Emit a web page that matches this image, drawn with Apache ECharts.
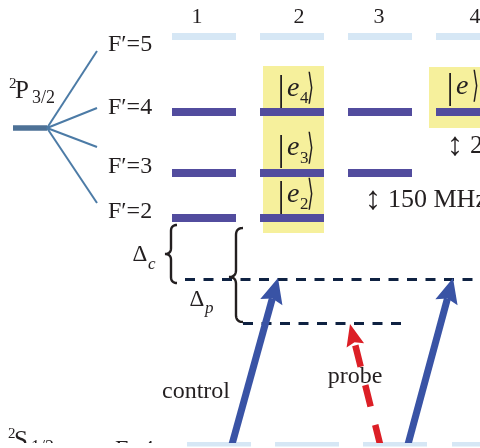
<!DOCTYPE html>
<html>
<head>
<meta charset="utf-8">
<script src="https://cdn.jsdelivr.net/npm/echarts@6.0.0/dist/echarts.min.js"></script>
<style>
  html, body { margin: 0; padding: 0; background: #fff; }
  #chart { width: 480px; height: 448px; }
</style>
</head>
<body>
<div id="chart"></div>
<script>
// column numbers across the top
const columnNames = ['1', '2', '3', '4'];
const columnNameX = [197, 299, 379, 475];
const columnNameY = 17;

// hyperfine levels of 2P3/2
const levelNames = ['F\u2032=5', 'F\u2032=4', 'F\u2032=3', 'F\u2032=2'];
const levelY = [36.5, 112, 173, 218];
const levelNameY = [45, 108, 167, 212];
const levelCoupled = [false, true, true, true];
const levelColumns = [[0, 1, 2, 3], [0, 1, 2, 3], [0, 1, 2], [0, 1]];
const columnStart = [172, 260, 348, 436];
const columnEnd = [236, 324, 412, 500];

// ground level, cut by the bottom edge
const groundY = 445;
const groundStart = [187, 275, 363, 452];
const groundEnd = [251, 339, 427, 516];

// term symbols
const termLetters = ['P', 'S'];
const termSubs = ['3/2', '1/2'];
const termX = [9, 8];
const termY = [91, 441];
const groundName = ['F=4'];
const groundNameX = [115];
const groundNameY = [450];

// 2P3/2 stem and fan
const stemX = [13, 47];
const stemY = 128;
const fanEndX = 97;
const fanEndY = [51, 108, 147, 203];

// dressed states
const ketSubs = ['4', '3', '2', ''];
const ketX = [281, 281, 281, 450];
const ketY = [90, 149.5, 196, 88];
const boxX0 = [263, 429];
const boxY0 = [66, 67];
const boxX1 = [324, 500];
const boxY1 = [233, 128];

// splittings
const splitNames = ['150 MHz', '201 MHz'];
const splitX = [373, 455];
const splitY = [200, 146];

// detunings
const dashedY = [279, 323.5];
const dashedFrom = [185, 243];
const dashedTo = [480, 406];
const braceLeft = [165, 229];
const braceRight = [177, 243];
const braceTop = [225, 228];
const braceCusp = [254, 277];
const braceBottom = [283, 322];
const deltaSubs = ['c', 'p'];
const deltaX = [140, 197];
const deltaY = [255, 299.5];

// beams [x0, y0, x1, y1]
const controlBeams = [[231, 448, 278, 278], [407, 448, 453, 278]];
const probeBeams = [[381, 448, 350, 324]];
const beamNames = ['control', 'probe'];
const beamNameX = [196, 355];
const beamNameY = [392, 377];

const INK = '#231f20';
const SERIF = "'Liberation Serif', 'Times New Roman', serif";

function txt(x, y, text, size, extra) {
  return {
    type: 'text',
    x: x,
    y: y,
    style: Object.assign({
      text: text,
      fontSize: size,
      fontFamily: SERIF,
      fill: INK,
      align: 'left',
      verticalAlign: 'middle'
    }, extra || {})
  };
}

function textSeries(points, make) {
  return {
    type: 'custom',
    coordinateSystem: 'cartesian2d',
    clip: true,
    silent: true,
    data: points,
    renderItem: function (params, api) {
      const p = api.coord([api.value(0), api.value(1)]);
      return { type: 'group', children: make(params.dataIndex, p[0], p[1]) };
    }
  };
}

function segmentSeries(data, color, width, dash) {
  return {
    type: 'lines',
    coordinateSystem: 'cartesian2d',
    silent: true,
    clip: true,
    lineStyle: { color: color, width: width, opacity: 1, type: dash || 'solid', cap: 'butt' },
    data: data
  };
}

function arrowSeries(beams, color, width, headLen, headHalf, dash) {
  return {
    type: 'custom',
    coordinateSystem: 'cartesian2d',
    clip: true,
    silent: true,
    data: beams,
    renderItem: function (params, api) {
      const a = api.coord([api.value(0), api.value(1)]);
      const b = api.coord([api.value(2), api.value(3)]);
      const dx = b[0] - a[0], dy = b[1] - a[1];
      const len = Math.sqrt(dx * dx + dy * dy);
      const ux = dx / len, uy = dy / len;
      const nx = -uy, ny = ux;
      const bx = b[0] - ux * headLen, by = b[1] - uy * headLen;
      const notch = [b[0] - ux * headLen * 0.85, b[1] - uy * headLen * 0.85];
      const shaftEnd = dash ? [bx, by] : notch;
      return {
        type: 'group',
        children: [{
          type: 'line',
          shape: { x1: shaftEnd[0], y1: shaftEnd[1], x2: a[0], y2: a[1] },
          style: { stroke: color, lineWidth: width, lineDash: dash || null, fill: null }
        }, {
          type: 'polygon',
          shape: {
            points: [
              [b[0], b[1]],
              [bx + nx * headHalf, by + ny * headHalf],
              notch,
              [bx - nx * headHalf, by - ny * headHalf]
            ]
          },
          style: { fill: color, stroke: null }
        }]
      };
    }
  };
}

function bracePoints(xl, xr, y0, ym, y1) {
  const xm = (xl + xr) / 2;
  const r = (xr - xl) / 2;
  const pts = [];
  function quad(p0, c, p1) {
    for (let k = 0; k <= 10; k++) {
      const t = k / 10;
      const u = 1 - t;
      pts.push([u * u * p0[0] + 2 * u * t * c[0] + t * t * p1[0],
                u * u * p0[1] + 2 * u * t * c[1] + t * t * p1[1]]);
    }
  }
  quad([xr, y0], [xm, y0], [xm, y0 + r]);
  quad([xm, ym - r], [xm, ym], [xl, ym]);
  quad([xl, ym], [xm, ym], [xm, ym + r]);
  quad([xm, y1 - r], [xm, y1], [xr, y1]);
  return pts;
}

// level segments
const coupledLevels = [];
const faintLevels = [];
levelColumns.forEach(function (cols, i) {
  cols.forEach(function (c) {
    const seg = { coords: [[columnStart[c], levelY[i]], [columnEnd[c], levelY[i]]] };
    (levelCoupled[i] ? coupledLevels : faintLevels).push(seg);
  });
});
groundStart.forEach(function (x, c) {
  faintLevels.push({ coords: [[x, groundY], [groundEnd[c], groundY]] });
});

const fanLines = fanEndY.map(function (y) {
  return { coords: [[stemX[1], stemY], [fanEndX, y]] };
});
const dashedLines = dashedY.map(function (y, i) {
  return { coords: [[dashedFrom[i], y], [dashedTo[i], y]] };
});

const chart = echarts.init(document.getElementById('chart'));

chart.setOption({
  animation: false,
  backgroundColor: '#fff',
  grid: { left: 0, right: 0, top: 0, bottom: 5 },
  xAxis: { type: 'value', min: 0, max: 480, show: false },
  yAxis: { type: 'value', min: 0, max: 443, inverse: true, show: false },
  series: [
    // yellow boxes behind the dressed states
    {
      type: 'custom',
      coordinateSystem: 'cartesian2d',
      clip: true,
      silent: true,
      data: boxX0.map(function (x, i) { return [x, boxY0[i], boxX1[i], boxY1[i]]; }),
      renderItem: function (params, api) {
        const p0 = api.coord([api.value(0), api.value(1)]);
        const p1 = api.coord([api.value(2), api.value(3)]);
        return {
          type: 'rect',
          shape: { x: p0[0], y: p0[1], width: p1[0] - p0[0], height: p1[1] - p0[1] },
          style: { fill: '#f6f09c' }
        };
      }
    },
    segmentSeries(faintLevels, '#d6e7f5', 7),
    segmentSeries(coupledLevels, '#524c9e', 8),
    segmentSeries([{ coords: [[stemX[0], stemY], [stemX[1], stemY]] }], '#4d7196', 5.5),
    segmentSeries(fanLines, '#4c7ba6', 2),
    segmentSeries(dashedLines, '#0f2242', 3, [10, 8.5]),
    // braces
    {
      type: 'custom',
      coordinateSystem: 'cartesian2d',
      clip: true,
      silent: true,
      data: braceLeft.map(function (x, i) {
        return [x, braceTop[i], braceRight[i], braceBottom[i], braceCusp[i]];
      }),
      renderItem: function (params, api) {
        const pts = bracePoints(api.value(0), api.value(2), api.value(1), api.value(4), api.value(3))
          .map(function (p) { return api.coord(p); });
        return {
          type: 'polyline',
          shape: { points: pts },
          style: { stroke: INK, lineWidth: 2.4, fill: null }
        };
      }
    },
    arrowSeries(controlBeams, '#3953a5', 7, 25, 11.5),
    arrowSeries(probeBeams, '#dc1f26', 6.5, 22, 9, [22, 19]),
    // texts
    textSeries(columnNameX.map(function (x) { return [x, columnNameY]; }), function (i, x, y) {
      return [txt(x, y, columnNames[i], 22, { align: 'center' })];
    }),
    textSeries(levelNameY.map(function (y) { return [108, y]; }), function (i, x, y) {
      return [txt(x, y, levelNames[i], 24)];
    }),
    textSeries(groundNameX.map(function (x, i) { return [x, groundNameY[i]]; }), function (i, x, y) {
      return [txt(x, y, groundName[i], 24)];
    }),
    textSeries(termX.map(function (x, i) { return [x, termY[i]]; }), function (i, x, y) {
      return [
        txt(x, y - 6.5, '2', 15),
        txt(x + 6, y, termLetters[i], 25),
        txt(x + 23, y + 7.5, termSubs[i], 18)
      ];
    }),
    textSeries(ketX.map(function (x, i) { return [x, ketY[i]]; }), function (i, x, y) {
      const parts = [
        txt(x, y + 1, '|', 36, { align: 'center' }),
        txt(x + 6, y - 1.5, 'e', 28, { fontStyle: 'italic' })
      ];
      if (ketSubs[i]) parts.push(txt(x + 19, y + 9, ketSubs[i], 17));
      const bracket = txt(ketSubs[i] ? x + 26 : x + 22, y, '\u27e9', 36);
      bracket.scaleX = 0.5;
      parts.push(bracket);
      return parts;
    }),
    textSeries(splitX.map(function (x, i) { return [x, splitY[i]]; }), function (i, x, y) {
      return [
        txt(x, y, '\u2195', 33, { align: 'center' }),
        txt(x + 15, y, splitNames[i], 26)
      ];
    }),
    textSeries(deltaX.map(function (x, i) { return [x, deltaY[i]]; }), function (i, x, y) {
      return [
        txt(x, y, '\u0394', 23, { align: 'center' }),
        txt(x + 8, y + 9.5, deltaSubs[i], 17, { fontStyle: 'italic' })
      ];
    }),
    textSeries(beamNameX.map(function (x, i) { return [x, beamNameY[i]]; }), function (i, x, y) {
      return [txt(x, y, beamNames[i], 24, { align: 'center' })];
    })
  ]
});
</script>
</body>
</html>
